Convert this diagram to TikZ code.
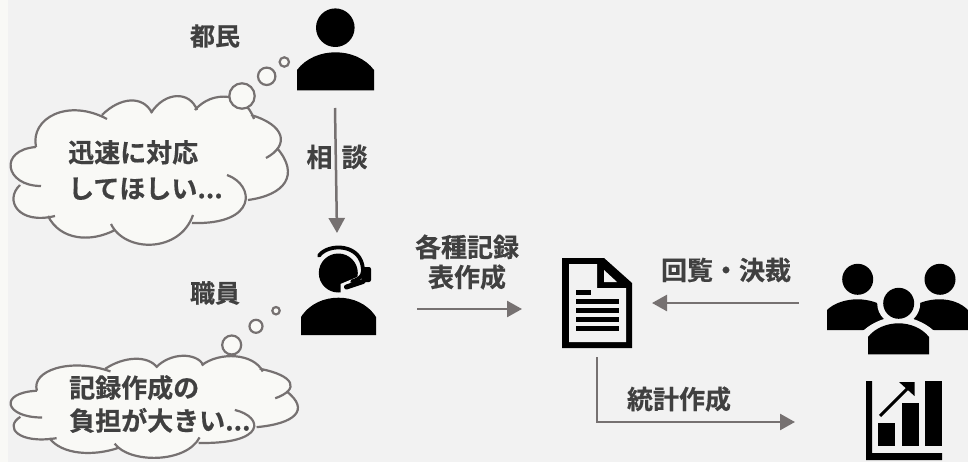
\documentclass[tikz,border=0pt]{standalone}
\usepackage{fontspec}
\usepackage{amsmath}
\usetikzlibrary{arrows.meta}
\newfontfamily\jpfont{Noto Sans CJK JP}[BoldFont={Noto Sans CJK JP Bold}, BoldFeatures={FakeBold=0.5}]
\definecolor{panelgray}{HTML}{F2F2F2}
\definecolor{stripgray}{HTML}{F9F9F6}
\definecolor{linegray}{HTML}{767171}
\definecolor{textgray}{HTML}{404040}
\newcommand{\cloudlobes}[1]{
	(26,52) .. controls (20,23) and (58,3) .. (97,24) #1
	(92,20) .. controls (110,2) and (133,0) .. (142,18) #1
	(141,18) .. controls (155,-4) and (180,-4) .. (187,15) #1
	(185,15) .. controls (202,-5) and (235,-3) .. (244,24) #1
	(241,20) .. controls (275,30) and (280,50) .. (256,63) #1
	(267,53) .. controls (290,80) and (275,100) .. (238,105) #1
	(217,80) .. controls (245,90) and (248,130) .. (182,128) #1
	(183,120) .. controls (170,158) and (115,158) .. (101,129) #1
	(105,135) .. controls (80,148) and (50,145) .. (38,121) #1
	(45,121) .. controls (8,130) and (-6,105) .. (10,90) #1
	(31,91) .. controls (-5,91) and (-12,55) .. (26,52)
}
\begin{document}
\begin{tikzpicture} [x=1pt, y=-1pt,
	label/.style={font=\jpfont\bfseries\fontsize{25}{30}\selectfont, text=textgray, inner sep=0pt, align=center},
	bubble/.style={font=\jpfont\bfseries\fontsize{26}{34}\selectfont, text=textgray, inner sep=0pt, align=left, anchor=west},
	flow/.style={draw=linegray, line width=2.5pt, -{Triangle[length=15pt, width=16pt]}},
	icon/.style={fill=black},
	gap/.style={fill=panelgray},
	cloudline/.style={draw=linegray, line width=2.2pt},
	puff/.style={cloudline, fill=stripgray},
	cloudshape/.pic={
		\fill [stripgray] \cloudlobes{--} -- cycle;
		\draw [cloudline] \cloudlobes{};
	}]
	\useasboundingbox (0,0) rectangle (968,462);
	\fill [stripgray] (0,0) rectangle (8,462);
	\fill [panelgray] (8,0) rectangle (968,462);

	\pic at (10,95) {cloudshape};
	\pic [xscale=1.036, yscale=0.687] at (10,355) {cloudshape};
	\draw [puff] (242,96) circle (12.7);
	\draw [puff] (266.7,76.3) circle (8.7);
	\draw [puff] (284.3,62) circle (4.7);
	\draw [puff] (231.7,345) circle (9.5);
	\draw [puff] (256,326.3) circle (6.5);
	\draw [puff] (276,310.7) circle (3.7);

	\fill [icon] (335.3,27.7) circle (19.3);
	\fill [icon] (297,90.3) -- (297,70) .. controls (306,58) and (321,52.3) .. (335.5,52.3) .. controls (350,52.3) and (365,58) .. (374,70) -- (374,90.3) -- cycle;

	\fill [icon] (338.3,273) circle (19.5);
	\fill [gap] (340.5,284) -- (362,275) -- (370,296) -- (340.5,296) -- cycle;
	\draw [line width=3.8pt, line cap=round] (319,255.7) .. controls (328,243) and (362,243) .. (363,270) .. controls (363,276) and (360,279) .. (352,281.5);
	\fill [icon, rounded corners=2pt] (362,267) rectangle (371,282);
	\draw [line width=5pt, line cap=round] (346.5,287) -- (363,281.5);
	\fill [icon] (301,335) -- (301,317) .. controls (310,303) and (325,297.7) .. (338.5,297.7) .. controls (352,297.7) and (367,303) .. (376,317) -- (376,335) -- cycle;

	\fill [icon] (562,258) -- (604,258) -- (632,283) -- (632,348) -- (562,348) -- cycle;
	\fill [gap] (569,264) -- (597,264) -- (597,288) -- (626,288) -- (626,342) -- (569,342) -- cycle;
	\fill [gap] (604,270) -- (617,282) -- (604,282) -- cycle;
	\fill [icon] (576,290) rectangle (591,295);
	\foreach \liney in {299,308,317,326}
		\fill [icon] (576,\liney) rectangle (619,\liney+5);

	\fill [icon] (857.7,279.3) circle (15.5);
	\fill [icon] (940,279.3) circle (15.5);
	\fill [icon] (827,330) -- (827,310) .. controls (834,303) and (846,299.3) .. (857.5,299.3) .. controls (869,299.3) and (881,303) .. (888,310) -- (888,330) -- cycle;
	\fill [icon] (909,330) -- (909,310) .. controls (916,303) and (928,299.3) .. (939.5,299.3) .. controls (951,299.3) and (961,303) .. (968,310) -- (968,330) -- cycle;
	\fill [gap] (898.7,303.3) circle (21.5);
	\fill [gap] (858,358) -- (858,334) -- (864,330) .. controls (873,322) and (887,316.5) .. (898.7,316.5) .. controls (910,316.5) and (924,322) .. (933,330) -- (939,334) -- (939,358) -- cycle;
	\fill [icon] (898.7,303.3) circle (15.5);
	\fill [icon] (868,354.3) -- (868,337) .. controls (875,328) and (887,323.3) .. (898.7,323.3) .. controls (910,323.3) and (922,328) .. (929,337) -- (929,354.3) -- cycle;

	\fill [icon] (866,381) -- (872,381) -- (872,453) -- (942,453) -- (942,460) -- (866,460) -- cycle;
	\fill [icon] (878,423) rectangle (895,446);
	\fill [icon] (902,403) rectangle (919,446);
	\fill [icon] (925,381) rectangle (942,446);
	\draw [line width=3pt] (880,416) -- (911,385);
	\fill [icon] (899,382) -- (914.5,382) -- (914.5,396) -- cycle;

	\coordinate (citizenout) at (335,108);
	\coordinate (staffin) at (337,233);
	\coordinate (staffout) at (417,309);
	\coordinate (docin) at (522,309);
	\coordinate (groupout) at (798.5,303);
	\coordinate (docright) at (652,303);
	\coordinate (docout) at (597,357);
	\coordinate (statin) at (795,422);

	\draw [flow] (citizenout) -- (staffin);
	\draw [flow] (staffout) -- (docin);
	\draw [flow] (groupout) -- (docright);
	\draw [flow] (docout) |- (statin);

	\node [label] (citizen) at (215,36) {都民};
	\node [label] (staff) at (215,293) {職員};
	\node [label, font=\jpfont\bfseries\fontsize{26}{30}\selectfont] (consult) at (337,157) {相\hspace{9pt}談};
	\node [label, font=\jpfont\bfseries\fontsize{26}{30}\selectfont] (forms) at (467,262) {各種記録\\表作成};
	\node [label, font=\jpfont\bfseries\fontsize{26}{30}\selectfont] (approval) at (726,270) {回覧・決裁};
	\node [label, font=\jpfont\bfseries\fontsize{26}{30}\selectfont] (stats) at (679,399) {統計作成};
	\node [bubble, font=\jpfont\bfseries\fontsize{26}{36}\selectfont] (wish) at (68,170) {迅速に対応\\してほしい...};
	\node [bubble, font=\jpfont\bfseries\fontsize{26}{33}\selectfont] (burden) at (69,404) {記録作成の\\負担が大きい...};
\end{tikzpicture}
\end{document}
